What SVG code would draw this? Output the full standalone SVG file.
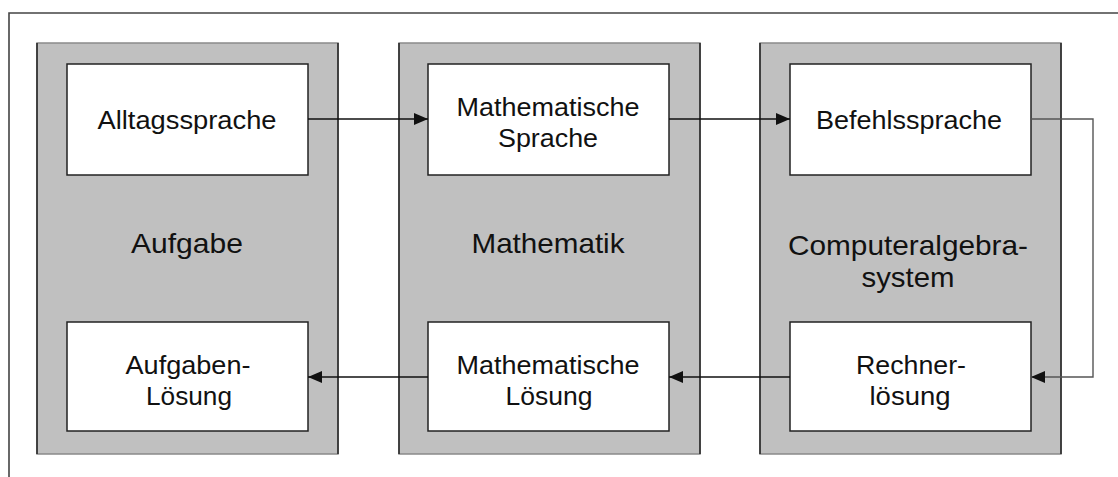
<svg xmlns="http://www.w3.org/2000/svg" width="1118" height="477" viewBox="0 0 1118 477">
  <style>
    .panel { fill: #c0c0c0; stroke: #8a8a8a; stroke-width: 1.5; }
    .edge { stroke: #222; stroke-width: 1.5; }
    .box { fill: #ffffff; stroke: #222; stroke-width: 1.5; }
    .t { font-family: "Liberation Sans", Arial, sans-serif; font-size: 25px; fill: #111; text-anchor: middle; }
    .lbl { font-family: "Liberation Sans", Arial, sans-serif; font-size: 28px; fill: #111; text-anchor: middle; }
    .conn { fill: none; stroke: #111; stroke-width: 1.6; }
    .loop { fill: none; stroke: #555; stroke-width: 1.4; }
    .frame { fill: none; stroke: #444; stroke-width: 1.6; }
  </style>
  <defs>
    <marker id="head" markerUnits="userSpaceOnUse" markerWidth="15" markerHeight="12" refX="14" refY="6" orient="auto">
      <path d="M0,0 L14,6 L0,12 z" fill="#111"/>
    </marker>
  </defs>

  <rect width="1118" height="477" fill="#ffffff"/>
  <!-- page frame -->
  <path class="frame" d="M9,477 V13 H1118"/>

  <!-- column: task -->
  <g id="panel-aufgabe">
    <rect class="panel" x="37" y="43" width="301" height="411"/>
    <line class="edge" x1="37" y1="43" x2="37" y2="454"/>
    <line class="edge" x1="338" y1="43" x2="338" y2="454"/>
    <text class="lbl" x="187" y="253" textLength="112" lengthAdjust="spacingAndGlyphs">Aufgabe</text>
  </g>
  <g id="panel-mathematik">
    <rect class="panel" x="399" y="43" width="301" height="411"/>
    <line class="edge" x1="399" y1="43" x2="399" y2="454"/>
    <line class="edge" x1="700" y1="43" x2="700" y2="454"/>
    <text class="lbl" x="548" y="253" textLength="153" lengthAdjust="spacingAndGlyphs">Mathematik</text>
  </g>
  <g id="panel-cas">
    <rect class="panel" x="760" y="43" width="301" height="411"/>
    <line class="edge" x1="760" y1="43" x2="760" y2="454"/>
    <line class="edge" x1="1061" y1="43" x2="1061" y2="454"/>
    <text class="lbl" x="908" y="255" textLength="240" lengthAdjust="spacingAndGlyphs">Computeralgebra-</text>
    <text class="lbl" x="908" y="287" textLength="93" lengthAdjust="spacingAndGlyphs">system</text>
  </g>

  <!-- inner boxes -->
  <g id="alltagssprache">
    <rect class="box" x="67" y="64" width="241" height="111"/>
    <text class="t" x="187" y="129" textLength="179" lengthAdjust="spacingAndGlyphs">Alltagssprache</text>
  </g>
  <g id="mathematische-sprache">
    <rect class="box" x="428" y="64" width="241" height="111"/>
    <text class="t" x="548" y="116" textLength="183" lengthAdjust="spacingAndGlyphs">Mathematische</text>
    <text class="t" x="548" y="147" textLength="100" lengthAdjust="spacingAndGlyphs">Sprache</text>
  </g>
  <g id="befehlssprache">
    <rect class="box" x="790" y="64" width="241" height="111"/>
    <text class="t" x="909" y="129" textLength="186" lengthAdjust="spacingAndGlyphs">Befehlssprache</text>
  </g>
  <g id="aufgaben-loesung">
    <rect class="box" x="67" y="322" width="241" height="109"/>
    <text class="t" x="188" y="374" textLength="125" lengthAdjust="spacingAndGlyphs">Aufgaben-</text>
    <text class="t" x="189" y="405" textLength="86" lengthAdjust="spacingAndGlyphs">Lösung</text>
  </g>
  <g id="mathematische-loesung">
    <rect class="box" x="428" y="322" width="241" height="109"/>
    <text class="t" x="548" y="374" textLength="183" lengthAdjust="spacingAndGlyphs">Mathematische</text>
    <text class="t" x="549" y="405" textLength="87" lengthAdjust="spacingAndGlyphs">Lösung</text>
  </g>
  <g id="rechnerloesung">
    <rect class="box" x="790" y="322" width="241" height="109"/>
    <text class="t" x="911" y="374" textLength="110" lengthAdjust="spacingAndGlyphs">Rechner-</text>
    <text class="t" x="910" y="405" textLength="81" lengthAdjust="spacingAndGlyphs">lösung</text>
  </g>

  <!-- connectors -->
  <g id="connectors">
    <line class="conn" x1="308" y1="119" x2="428" y2="119" marker-end="url(#head)"/>
    <line class="conn" x1="669" y1="119" x2="790" y2="119" marker-end="url(#head)"/>
    <path class="loop" d="M1031,119 H1093 V377 H1031" marker-end="url(#head)"/>
    <line class="conn" x1="790" y1="377" x2="669" y2="377" marker-end="url(#head)"/>
    <line class="conn" x1="428" y1="377" x2="308" y2="377" marker-end="url(#head)"/>
  </g>
</svg>
